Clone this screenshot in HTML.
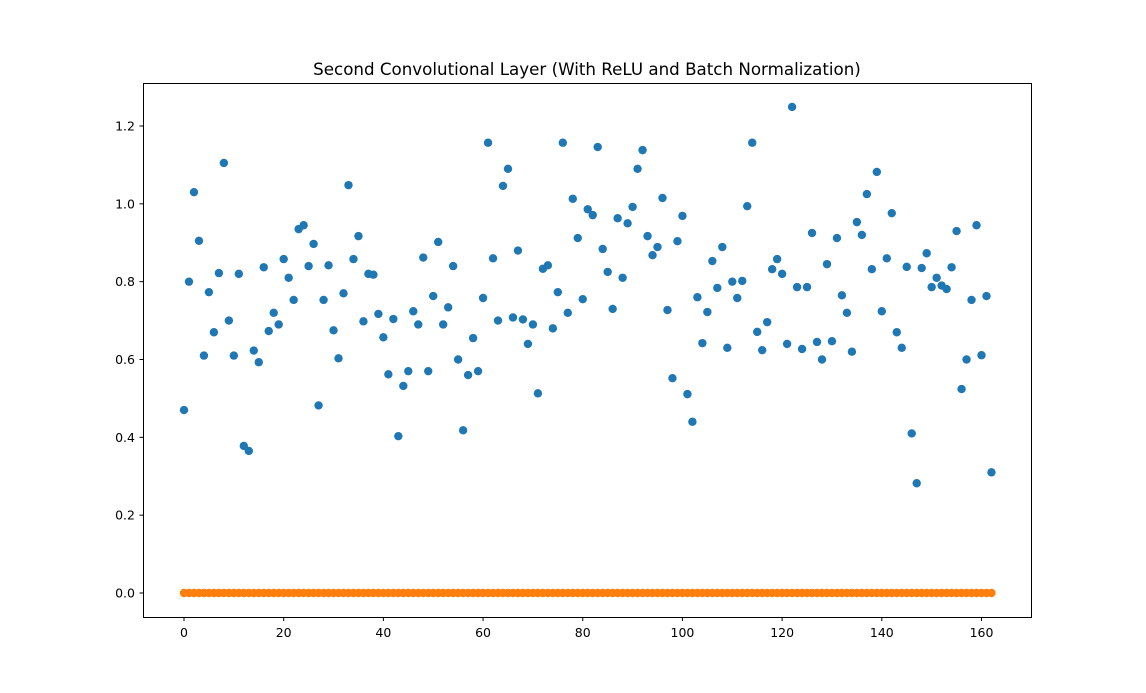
<!DOCTYPE html>
<html><head><meta charset="utf-8"><style>
html,body{margin:0;padding:0;background:#fff;}
svg{display:block;font-family:"DejaVu Sans","Liberation Sans",sans-serif;}
</style></head><body>
<svg id="chart" width="1146" height="693">
<rect x="0" y="0" width="1146" height="693" fill="#fff"/>
<text x="587" y="75" font-size="16.7" text-anchor="middle">Second Convolutional Layer (With ReLU and Batch Normalization)</text>
<g id="marks"></g>
<rect x="143.5" y="83.5" width="888" height="534" fill="none" stroke="#000" stroke-width="1"/>
<g id="axes"></g>
</svg>
<script>
const xTicks = [0, 20, 40, 60, 80, 100, 120, 140, 160];
const yTicks = [0.0, 0.2, 0.4, 0.6, 0.8, 1.0, 1.2];
const series1 = [0.47,0.80,1.03,0.905,0.61,0.773,0.67,0.822,1.105,0.70,0.61,0.82,0.378,0.365,0.623,0.593,0.837,0.673,0.72,0.69,0.858,0.81,0.753,0.935,0.945,0.84,0.897,0.482,0.753,0.842,0.675,0.603,0.77,1.048,0.858,0.917,0.698,0.82,0.818,0.717,0.657,0.562,0.704,0.403,0.532,0.57,0.724,0.69,0.862,0.57,0.763,0.902,0.69,0.734,0.84,0.60,0.418,0.56,0.655,0.57,0.758,1.157,0.86,0.70,1.046,1.09,0.708,0.88,0.703,0.64,0.69,0.513,0.833,0.842,0.68,0.773,1.157,0.72,1.013,0.912,0.755,0.986,0.971,1.146,0.884,0.825,0.73,0.963,0.81,0.95,0.992,1.09,1.138,0.917,0.868,0.889,1.015,0.727,0.552,0.904,0.969,0.511,0.44,0.76,0.642,0.722,0.853,0.784,0.889,0.63,0.80,0.758,0.802,0.994,1.157,0.671,0.624,0.696,0.832,0.858,0.82,0.64,1.249,0.786,0.627,0.786,0.925,0.645,0.60,0.845,0.647,0.912,0.765,0.72,0.62,0.953,0.92,1.025,0.832,1.082,0.724,0.86,0.976,0.67,0.63,0.838,0.41,0.282,0.835,0.873,0.786,0.81,0.79,0.781,0.837,0.93,0.524,0.60,0.753,0.945,0.611,0.763,0.31];
const series2 = series1.map(() => 0);

const NS = "http://www.w3.org/2000/svg";
function xScale(v){ return 184 + (v - 0) * (981.5 - 184) / 160; }
function yScale(v){ return 593 - v * (593 - 126) / 1.2; }
const marks = document.getElementById('marks');
const axes = document.getElementById('axes');

series1.forEach((v, i) => {
  const c = document.createElementNS(NS, 'circle');
  c.setAttribute('cx', xScale(i)); c.setAttribute('cy', yScale(v));
  c.setAttribute('r', 4.2); c.setAttribute('fill', '#1f77b4');
  
  
  marks.appendChild(c);
});
series2.forEach((v, i) => {
  const c = document.createElementNS(NS, 'circle');
  c.setAttribute('cx', xScale(i)); c.setAttribute('cy', yScale(v));
  c.setAttribute('r', 4.2); c.setAttribute('fill', '#ff7f0e');
  
  
  marks.appendChild(c);
});
xTicks.forEach(t => {
  const x = xScale(t);
  const l = document.createElementNS(NS, 'line');
  l.setAttribute('x1', x); l.setAttribute('x2', x); l.setAttribute('y1', 617.5); l.setAttribute('y2', 621);
  l.setAttribute('stroke', '#000');
  
  
  axes.appendChild(l);
  const tx = document.createElementNS(NS, 'text');
  tx.setAttribute('x', x); tx.setAttribute('y', 637); tx.setAttribute('font-size', '12.5');
  tx.setAttribute('text-anchor', 'middle'); tx.textContent = t;
  
  
  axes.appendChild(tx);
});
yTicks.forEach(t => {
  const y = yScale(t);
  const l = document.createElementNS(NS, 'line');
  l.setAttribute('x1', 139.5); l.setAttribute('x2', 143.5); l.setAttribute('y1', y); l.setAttribute('y2', y);
  l.setAttribute('stroke', '#000');
  
  
  axes.appendChild(l);
  const tx = document.createElementNS(NS, 'text');
  tx.setAttribute('x', 135); tx.setAttribute('y', y + 4.5); tx.setAttribute('font-size', '12.5');
  tx.setAttribute('text-anchor', 'end'); tx.textContent = t.toFixed(1);
  
  
  axes.appendChild(tx);
});
</script>
</body></html>
